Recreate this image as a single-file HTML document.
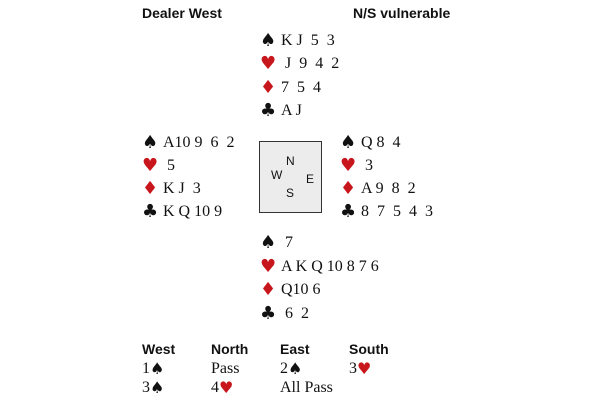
<!DOCTYPE html>
<html><head><meta charset="utf-8"><style>
body{margin:0;width:600px;height:400px;background:#fff;position:relative;overflow:hidden;font-family:"Liberation Serif",serif;color:#111}
.a{position:absolute;white-space:pre;font-size:16px;line-height:18px}
.h{position:absolute;font-family:"Liberation Sans",sans-serif;font-weight:bold;font-size:14px;line-height:16px}
.s{display:inline-block;width:21px;font-size:18px;line-height:18px;vertical-align:top;font-family:"DejaVu Sans",sans-serif}
.b{font-size:16px;line-height:18px;vertical-align:top;font-family:"DejaVu Sans",sans-serif}
.r{color:#c8161d}
.box{position:absolute;left:259px;top:141px;width:61px;height:70px;background:#ececec;border:1px solid #333;font-family:"Liberation Sans",sans-serif;font-size:12px}
.box span{position:absolute}
</style></head><body>
<div class="h" style="left:142px;top:5px">Dealer West</div>
<div class="h" style="left:353px;top:5px">N/S vulnerable</div>

<div class="a" style="left:260px;top:32px"><span class="s">♠</span>K J  5  3</div>
<div class="a" style="left:260px;top:55px"><span class="s r">♥</span> J  9  4  2</div>
<div class="a" style="left:260px;top:79px"><span class="s r">♦</span>7  5  4</div>
<div class="a" style="left:260px;top:102px"><span class="s">♣</span>A J</div>

<div class="a" style="left:142px;top:134px"><span class="s">♠</span>A10 9  6  2</div>
<div class="a" style="left:142px;top:157px"><span class="s r">♥</span> 5</div>
<div class="a" style="left:142px;top:180px"><span class="s r">♦</span>K J  3</div>
<div class="a" style="left:142px;top:203px"><span class="s">♣</span>K Q 10 9</div>

<div class="box"><span style="left:26px;top:12px">N</span><span style="left:11px;top:26px">W</span><span style="left:46px;top:30px">E</span><span style="left:26px;top:44px">S</span></div>

<div class="a" style="left:340px;top:134px"><span class="s">♠</span>Q 8  4</div>
<div class="a" style="left:340px;top:157px"><span class="s r">♥</span> 3</div>
<div class="a" style="left:340px;top:180px"><span class="s r">♦</span>A 9  8  2</div>
<div class="a" style="left:340px;top:203px"><span class="s">♣</span>8  7  5  4  3</div>

<div class="a" style="left:260px;top:234px"><span class="s">♠</span> 7</div>
<div class="a" style="left:260px;top:258px"><span class="s r">♥</span>A K Q 10 8 7 6</div>
<div class="a" style="left:260px;top:281px"><span class="s r">♦</span>Q10 6</div>
<div class="a" style="left:260px;top:305px"><span class="s">♣</span> 6  2</div>

<div class="h" style="left:142px;top:341px">West</div>
<div class="h" style="left:211px;top:341px">North</div>
<div class="h" style="left:280px;top:341px">East</div>
<div class="h" style="left:349px;top:341px">South</div>
<div class="a" style="left:142px;top:360px">1<span class="b">♠</span></div>
<div class="a" style="left:211px;top:360px">Pass</div>
<div class="a" style="left:280px;top:360px">2<span class="b">♠</span></div>
<div class="a" style="left:349px;top:360px">3<span class="b r">♥</span></div>
<div class="a" style="left:142px;top:379px">3<span class="b">♠</span></div>
<div class="a" style="left:211px;top:379px">4<span class="b r">♥</span></div>
<div class="a" style="left:280px;top:379px">All Pass</div>
</body></html>
